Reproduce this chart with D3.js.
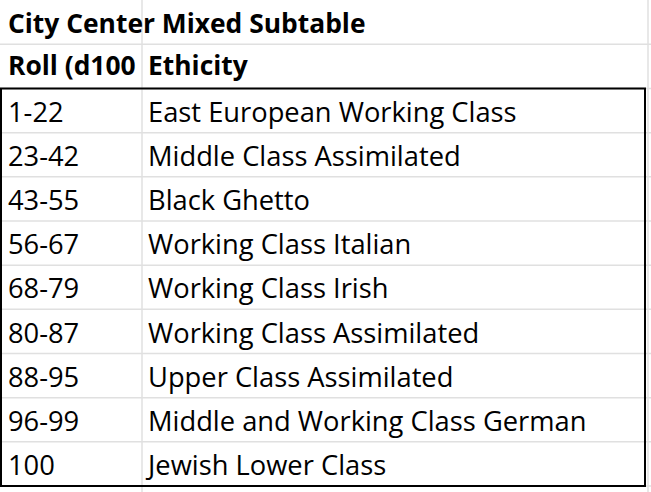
<!DOCTYPE html>
<html>
<head>
<meta charset="utf-8">
<script src="https://cdn.jsdelivr.net/npm/d3@7"></script>
<style>
  body { margin: 0; background: #fff; }
  text { font-family: "Open Sans", sans-serif; fill: #000; }
</style>
</head>
<body>
<script>
  // Table contents
  const title = "City Center Mixed Subtable";
  const headers = ["Roll (d100)", "Ethicity"];
  const rolls = ["1-22", "23-42", "43-55", "56-67", "68-79", "80-87", "88-95", "96-99", "100"];
  const ethnicities = [
    "East European Working Class",
    "Middle Class Assimilated",
    "Black Ghetto",
    "Working Class Italian",
    "Working Class Irish",
    "Working Class Assimilated",
    "Upper Class Assimilated",
    "Middle and Working Class German",
    "Jewish Lower Class"
  ];

  const width = 651, height = 492;
  const nRows = rolls.length + 2;

  const svg = d3.select("body").append("svg")
    .attr("width", width)
    .attr("height", height);

  // row edge positions (row 2 starts the boxed data block)
  const y = d3.scaleLinear().domain([2, nRows]).range([88.5, 486]);
  const colX = [0, 142, 648];
  const fs = 27.3;    // body text
  const fsBold = 26.4; // bold text runs a bit wide in this font

  // grid lines
  const grid = svg.append("g").attr("stroke", "#e0e0e0").attr("stroke-width", 1.5);
  d3.range(1, nRows + 1).forEach(i => {
    grid.append("line").attr("x1", 0).attr("x2", width)
      .attr("y1", y(i)).attr("y2", y(i));
  });
  colX.slice(1).forEach(x => {
    grid.append("line").attr("x1", x).attr("x2", x)
      .attr("y1", 0).attr("y2", height);
  });

  // clip for first column text (the header overflows and gets cut)
  svg.append("clipPath").attr("id", "colA")
    .append("rect").attr("x", 0).attr("y", 0).attr("width", 136).attr("height", height);

  // title row
  svg.append("text")
    .attr("x", 8).attr("y", y(1) - 11)
    .attr("font-size", fsBold).attr("font-weight", "bold")
    .text(title);

  // header row
  svg.append("text")
    .attr("clip-path", "url(#colA)")
    .attr("x", 8).attr("y", y(2) - 14)
    .attr("font-size", fsBold).attr("font-weight", "bold")
    .text(headers[0]);
  svg.append("text")
    .attr("x", colX[1] + 6).attr("y", y(2) - 14)
    .attr("font-size", fsBold).attr("font-weight", "bold")
    .text(headers[1]);

  // data rows
  const rows = svg.selectAll(".row")
    .data(rolls.map((r, i) => ({ roll: r, eth: ethnicities[i], i })))
    .enter().append("g").attr("class", "row");

  rows.append("text")
    .attr("clip-path", "url(#colA)")
    .attr("x", 8).attr("y", d => y(d.i + 3) - 11)
    .attr("font-size", fs)
    .text(d => d.roll);

  rows.append("text")
    .attr("x", colX[1] + 6).attr("y", d => y(d.i + 3) - 11)
    .attr("font-size", fs)
    .text(d => d.eth);

  // outline around data block
  svg.append("rect")
    .attr("x", 1).attr("y", y(2))
    .attr("width", 645 - 1).attr("height", y(nRows) - y(2))
    .attr("fill", "none").attr("stroke", "#000").attr("stroke-width", 2);
</script>
</body>
</html>
